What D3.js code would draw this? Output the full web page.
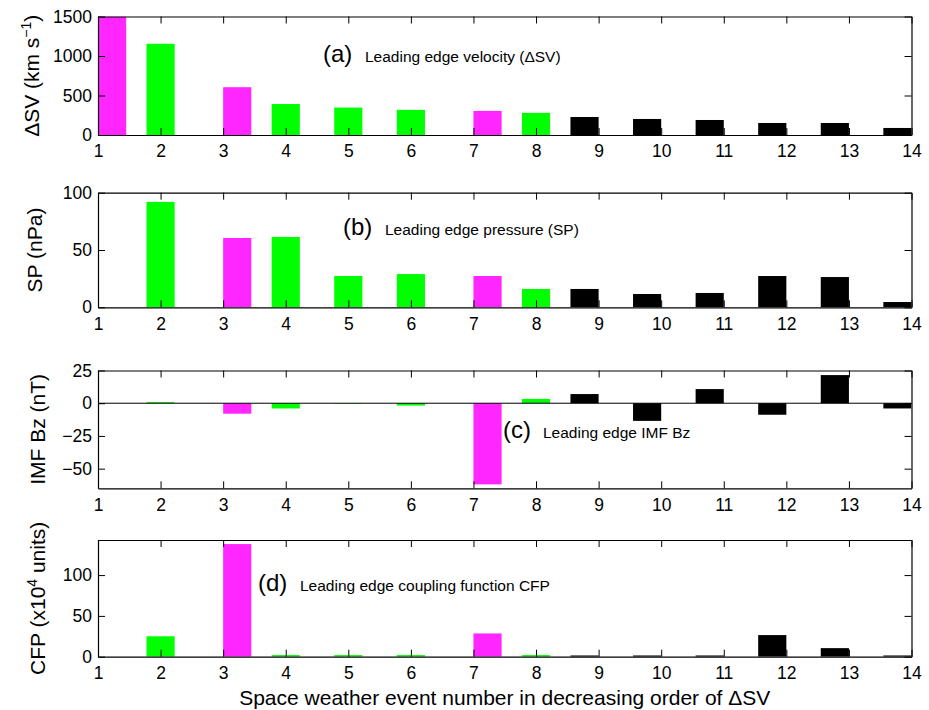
<!DOCTYPE html>
<html>
<head>
<meta charset="utf-8">
<script src="https://cdn.jsdelivr.net/npm/d3@7"></script>
<style>
  html, body { margin: 0; padding: 0; background: #fff; }
  svg { display: block; font-family: "Liberation Sans", Arial, Helvetica, sans-serif; }
</style>
</head>
<body>
<svg id="chart" width="929" height="710"></svg>
<script>
// Events ranked by leading-edge velocity jump
const events = [1, 2, 3, 4, 5, 6, 7, 8, 9, 10, 11, 12, 13, 14];
// Event group: "m" magenta, "g" green, "k" black
const eventGroup = ["m", "g", "m", "g", "g", "g", "m", "g", "k", "k", "k", "k", "k", "k"];

// (a) Leading edge velocity jump, km/s
const deltaSV = [1500, 1155, 605, 392, 347, 318, 305, 280, 228, 203, 190, 152, 152, 89];
// (b) Leading edge pressure, nPa
const pressureSP = [0, 92, 60.5, 61.4, 27.3, 29, 27.3, 16, 16, 11.6, 12.5, 27.3, 26.4, 4.6];
// (c) Leading edge IMF Bz, nT
const imfBz = [0, 0.8, -8, -4, -0.3, -1.8, -62, 3.3, 7, -13.5, 10.8, -8.8, 21.5, -4];
// (d) Leading edge coupling function, 10^4 units
const couplingCFP = [0, 25, 138, 2, 2, 2, 28.5, 2, 1.5, 1.5, 1.5, 26.5, 10.5, 1.5];

const xTicks = [1, 2, 3, 4, 5, 6, 7, 8, 9, 10, 11, 12, 13, 14];
const yTicksA = [0, 500, 1000, 1500];
const yTicksB = [0, 50, 100];
const yTicksC = [-50, -25, 0, 25];
const yTicksD = [0, 50, 100];

const groupColor = { m: "#ff26ff", g: "#00ff00", k: "#000000" };
const groupShift = { m: 0.225, g: 0, k: -0.225 };
const halfBar = 0.225;

const svg = d3.select("#chart");
const FONT_TICK = 17.5, FONT_LABEL = 21;
const intFmt = d3.format("d");

const x = d3.scaleLinear().domain([1, 14]).range([98, 911.5]);

const panels = [
  { values: deltaSV, domain: [0, 1500], ticks: yTicksA, top: 16.5, bottom: 135,
    ylabel: "a", labelX: 39,
    tag: "(a)", tagX: 323, desc: "Leading edge velocity (\u0394SV)", descX: 365, textY: 62 },
  { values: pressureSP, domain: [0, 100], ticks: yTicksB, top: 192.7, bottom: 307.3,
    ylabel: "SP (nPa)", labelX: 42,
    tag: "(b)", tagX: 343, desc: "Leading edge pressure (SP)", descX: 385, textY: 235 },
  { values: imfBz, domain: [-65, 25], ticks: yTicksC, top: 370.5, bottom: 488.3,
    ylabel: "IMF Bz (nT)", labelX: 45, zeroLine: true,
    tag: "(c)", tagX: 503, desc: "Leading edge IMF Bz", descX: 543, textY: 438 },
  { values: couplingCFP, domain: [0, 143], ticks: yTicksD, top: 540, bottom: 656.7,
    ylabel: "d", labelX: 45,
    tag: "(d)", tagX: 258, desc: "Leading edge coupling function CFP", descX: 300, textY: 591 }
];

panels.forEach((p, pi) => {
  const y = d3.scaleLinear().domain(p.domain).range([p.bottom, p.top]);
  const g = svg.append("g");

  const clipId = "clip" + pi;
  svg.append("clipPath").attr("id", clipId)
    .append("rect")
    .attr("x", x.range()[0]).attr("y", p.top)
    .attr("width", x.range()[1] - x.range()[0]).attr("height", p.bottom - p.top);

  // bars
  g.append("g").attr("clip-path", `url(#${clipId})`)
    .selectAll("rect")
    .data(events.map((e, i) => ({ e, v: p.values[i], grp: eventGroup[i] })))
    .join("rect")
    .attr("x", d => x(d.e + groupShift[d.grp] - halfBar))
    .attr("width", d => x(d.e + groupShift[d.grp] + halfBar) - x(d.e + groupShift[d.grp] - halfBar))
    .attr("y", d => Math.min(y(d.v), y(0)))
    .attr("height", d => Math.abs(y(d.v) - y(0)))
    .attr("fill", d => groupColor[d.grp]);

  if (p.zeroLine) {
    g.append("line")
      .attr("x1", x.range()[0]).attr("x2", x.range()[1])
      .attr("y1", y(0)).attr("y2", y(0))
      .attr("stroke", "#000").attr("stroke-width", 1);
  }

  // axes with inward ticks on all four sides
  const styleAxis = sel => {
    sel.select(".domain").attr("stroke", "#000").attr("stroke-width", 1.2);
    sel.selectAll(".tick line").attr("stroke", "#000").attr("stroke-width", 1);
    sel.selectAll("text").attr("font-size", FONT_TICK).attr("fill", "#000")
      .attr("font-family", "Liberation Sans, Arial, Helvetica, sans-serif");
  };

  g.append("g").attr("transform", `translate(0,${p.bottom})`)
    .call(d3.axisBottom(x).tickValues(xTicks).tickFormat(intFmt)
      .tickSizeInner(-7).tickSizeOuter(0).tickPadding(10))
    .call(styleAxis);
  g.append("g").attr("transform", `translate(0,${p.top})`)
    .call(d3.axisTop(x).tickValues(xTicks).tickSizeInner(-7).tickSizeOuter(0).tickFormat(""))
    .call(styleAxis);
  g.append("g").attr("transform", `translate(${x.range()[0]},0)`)
    .call(d3.axisLeft(y).tickValues(p.ticks).tickFormat(intFmt)
      .tickSizeInner(-7).tickSizeOuter(0).tickPadding(6))
    .call(styleAxis);
  g.append("g").attr("transform", `translate(${x.range()[1]},0)`)
    .call(d3.axisRight(y).tickValues(p.ticks).tickSizeInner(-7).tickSizeOuter(0).tickFormat(""))
    .call(styleAxis);

  // y-axis title
  const yl = svg.append("text")
    .attr("transform", `translate(${p.labelX},${(p.top + p.bottom) / 2}) rotate(-90)`)
    .attr("text-anchor", "middle")
    .attr("font-size", FONT_LABEL)
    .attr("fill", "#000");
  if (p.ylabel === "a") {
    yl.append("tspan").text("\u0394SV (km s");
    yl.append("tspan").attr("dy", -8).attr("font-size", 14).text("\u22121");
    yl.append("tspan").attr("dy", 8).text(")");
  } else if (p.ylabel === "d") {
    yl.append("tspan").text("CFP (x10");
    yl.append("tspan").attr("dy", -8).attr("font-size", 14).text("4");
    yl.append("tspan").attr("dy", 8).text(" units)");
  } else {
    yl.text(p.ylabel);
  }

  // panel annotation
  svg.append("text").attr("x", p.tagX).attr("y", p.textY)
    .attr("font-size", 24).attr("fill", "#000").text(p.tag);
  svg.append("text").attr("x", p.descX).attr("y", p.textY)
    .attr("font-size", 15.5).attr("fill", "#000").text(p.desc);
});

// shared x-axis title
svg.append("text")
  .attr("x", (x.range()[0] + x.range()[1]) / 2)
  .attr("y", 705)
  .attr("text-anchor", "middle")
  .attr("font-size", FONT_LABEL)
  .attr("fill", "#000")
  .text("Space weather event number in decreasing order of \u0394SV");
</script>
</body>
</html>
